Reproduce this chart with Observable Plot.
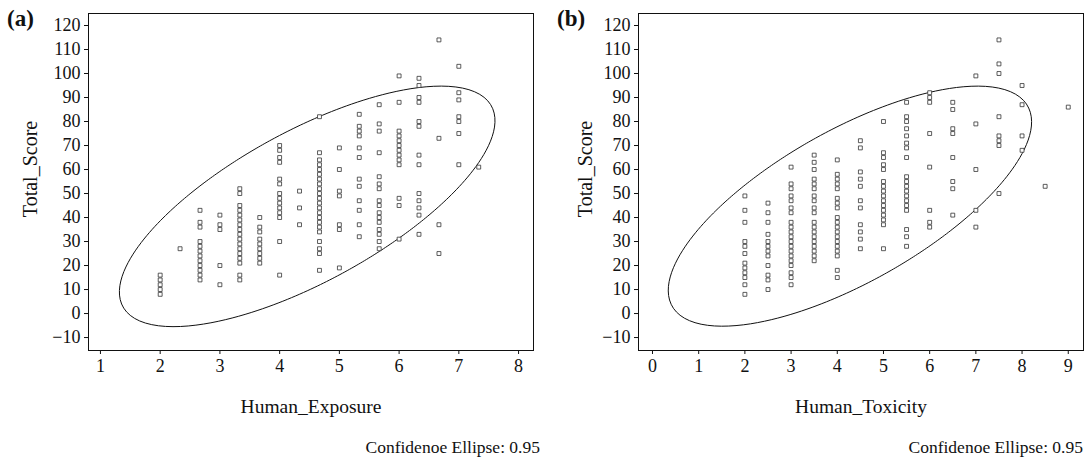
<!DOCTYPE html>
<html><head><meta charset="utf-8">
<script src="https://cdn.jsdelivr.net/npm/d3@7"></script>
<script src="https://cdn.jsdelivr.net/npm/@observablehq/plot@0.6"></script>
<style>
body{margin:0;background:#fff;width:1089px;height:459px;position:relative;overflow:hidden;font-family:"Liberation Serif",serif;color:#111;}
.panel{position:absolute;top:0;}
.tag{position:absolute;font-weight:bold;font-size:23px;line-height:1;}
.cap{position:absolute;font-size:17.5px;line-height:1;white-space:nowrap;}
</style></head><body>
<div id="a" class="panel" style="left:0"></div>
<div id="b" class="panel" style="left:545px"></div>
<div class="tag" style="left:7px;top:7px">(a)</div>
<div class="tag" style="left:557px;top:7px">(b)</div>
<div class="cap" style="right:549px;top:439px">Confidenoe Ellipse: 0.95</div>
<div class="cap" style="right:6px;top:439px">Confidenoe Ellipse: 0.95</div>
<script>
const yTicks = [-10, 0, 10, 20, 30, 40, 50, 60, 70, 80, 90, 100, 110, 120];
const exposureTicks = [1, 2, 3, 4, 5, 6, 7, 8];
const toxicityTicks = [0, 1, 2, 3, 4, 5, 6, 7, 8, 9];

const exposureX = [2, 2.333, 2.667, 3, 3.333, 3.667, 4, 4.333, 4.667, 5, 5.333, 5.667, 6, 6.333, 6.667, 7, 7.333];
const exposureScores = [
  [8,10,12,14,16],
  [27],
  [43,38,36,30,28,26,24,22,20,18,16,14],
  [41,37,35,20,12],
  [52,50,45,43,41,39,37,35,33,31,29,27,25,23,21,16,14],
  [40,36,34,31,29,27,25,23,21],
  [70,68,65,63,56,54,50,48,46,44,42,40,30,16],
  [51,44,37],
  [82,67,64,62,60,58,56,54,52,50,48,46,44,42,40,38,36,34,30,27,25,18],
  [69,60,51,49,37,35,19],
  [83,78,76,74,69,65,56,53,47,43,37,32],
  [87,79,76,67,57,54,52,47,45,42,40,38,35,33,30,27],
  [99,88,76,74,72,70,68,66,64,62,48,45,31],
  [98,95,90,88,80,78,66,62,50,47,44,41,33],
  [114,73,37,25],
  [103,92,89,82,80,75,62],
  [61]
];

const toxicityX = [2, 2.5, 3, 3.5, 4, 4.5, 5, 5.5, 6, 6.5, 7, 7.5, 8, 8.5, 9];
const toxicityScores = [
  [49,43,38,30,28,25,21,19,17,15,12,8],
  [46,42,38,33,30,28,26,24,20,16,14,10],
  [61,54,52,49,47,44,42,38,36,34,32,30,28,26,24,22,20,17,15,12],
  [66,63,60,56,54,52,49,47,44,42,38,36,34,32,30,28,26,24,22],
  [64,58,56,54,52,48,46,44,40,38,36,34,32,30,28,26,24,18,15],
  [72,69,59,56,53,47,44,37,34,31,27],
  [80,67,65,62,60,55,53,51,49,47,45,43,41,39,37,27],
  [88,82,80,77,74,71,69,65,57,55,53,51,49,47,45,43,35,32,28],
  [92,90,88,75,61,43,38,36],
  [88,85,77,75,65,55,52,41],
  [99,79,60,43,36],
  [114,104,100,82,74,72,70,50],
  [95,87,74,68],
  [53],
  [86]
];

// Points on the 95% confidence ellipse outlines
const ellipseExposure = [
  [1.30,8],[1.39,18],[1.67,27.5],[2.0,37.5],[2.3,47],[2.67,52.5],[3.13,61],[3.5,67],[4.0,75],
  [4.63,82],[5.02,86],[5.64,90],[6.14,93.7],[6.69,94.6],[7.11,93],[7.37,91],[7.48,87.5],
  [7.58,82],[7.53,72],[7.33,61],[7.11,54.6],[6.75,47],[6.02,32],[5.69,26],[5.0,17],
  [4.0,4.6],[3.0,-3],[2.12,-5.8],[1.72,-4.2],[1.45,0]
];
const ellipseToxicity = [
  [0.35,8.7],[0.54,19.6],[0.76,29.6],[1.19,39],[1.62,47.5],[2.49,61],[2.99,68],[3.64,74],
  [4.07,79],[4.78,82],[6.02,93],[7.03,95],[7.68,93.3],[7.97,89],[8.18,81],[8.12,71],
  [7.68,57],[7.25,47.5],[6.95,42],[6.02,29.6],[5.09,17],[4.35,10],[3.64,4.6],[2.62,-3.3],
  [1.47,-5.4],[0.6,-1.2]
];

// least-squares conic fit through the read outline points, so the drawn ellipse is smooth
function fitEllipse(pts, n = 240) {
  const mx = d3.mean(pts, p => p[0]), my = d3.mean(pts, p => p[1]);
  const sx = d3.deviation(pts, p => p[0]), sy = d3.deviation(pts, p => p[1]);
  const N = Array.from({length: 5}, () => Array(5).fill(0)), r = Array(5).fill(0);
  for (const [x, y] of pts) {
    const u = (x - mx) / sx, v = (y - my) / sy;
    const row = [u * u, u * v, v * v, u, v];
    for (let i = 0; i < 5; i++) { r[i] += row[i]; for (let j = 0; j < 5; j++) N[i][j] += row[i] * row[j]; }
  }
  for (let i = 0; i < 5; i++) {
    let p = i; for (let k = i + 1; k < 5; k++) if (Math.abs(N[k][i]) > Math.abs(N[p][i])) p = k;
    [N[i], N[p]] = [N[p], N[i]]; [r[i], r[p]] = [r[p], r[i]];
    for (let k = i + 1; k < 5; k++) {
      const f = N[k][i] / N[i][i];
      for (let j = i; j < 5; j++) N[k][j] -= f * N[i][j];
      r[k] -= f * r[i];
    }
  }
  const s = Array(5).fill(0);
  for (let i = 4; i >= 0; i--) { let t = r[i]; for (let j = i + 1; j < 5; j++) t -= N[i][j] * s[j]; s[i] = t / N[i][i]; }
  const [A, B, C, D, E] = s;
  const det = 4 * A * C - B * B;
  const u0 = (B * E - 2 * C * D) / det, v0 = (B * D - 2 * A * E) / det;
  const K = 1 - (A * u0 * u0 + B * u0 * v0 + C * v0 * v0 + D * u0 + E * v0);
  return d3.range(n).map(i => {
    const t = 2 * Math.PI * i / n, c = Math.cos(t), sn = Math.sin(t);
    const rr = Math.sqrt(K / (A * c * c + B * c * sn + C * sn * sn));
    return [mx + sx * (u0 + rr * c), my + sy * (v0 + rr * sn)];
  });
}

function flatten(xs, scores) {
  return xs.flatMap((x, i) => scores[i].map(y => ({x, y})));
}

function panel({data, ellipse, xDomain, xTicks, xLabel, width, ml, mr, yLabelDx}) {
  return Plot.plot({
    width, height: 430,
    marginLeft: ml, marginRight: mr, marginTop: 13, marginBottom: 80,
    style: {fontFamily: "Liberation Serif, serif", fontSize: "18px", color: "#111", background: "transparent", overflow: "visible"},
    x: {domain: xDomain},
    y: {domain: [-15.4, 125]},
    marks: [
      Plot.frame({stroke: "#111", strokeWidth: 1}),
      Plot.axisX({ticks: xTicks, tickSize: 4, tickPadding: 5, label: null, fontSize: 18}),
      Plot.axisX({ticks: [], tickSize: 0, label: xLabel, labelAnchor: "center", labelArrow: "none", labelOffset: 62, fontSize: 19.5}),
      Plot.axisY({ticks: yTicks, tickSize: 4, tickPadding: 4, label: null, fontSize: 18}),
      Plot.text(["Total_Score"], {frameAnchor: "left", textAnchor: "middle", rotate: -90, dx: yLabelDx, dy: -13, fontSize: 20}),
      Plot.line(fitEllipse(ellipse), {x: d => d[0], y: d => d[1], curve: "linear-closed", stroke: "#111", strokeWidth: 1}),
      Plot.dot(data, {x: "x", y: "y", symbol: "square", r: 2.2, stroke: "#333", strokeWidth: 0.8, fill: "white"})
    ]
  });
}

document.getElementById("a").append(panel({
  data: flatten(exposureX, exposureScores), ellipse: ellipseExposure,
  xDomain: [0.8, 8.25], xTicks: exposureTicks, xLabel: "Human_Exposure",
  width: 545, ml: 88, mr: 12, yLabelDx: -58
}));
document.getElementById("b").append(panel({
  data: flatten(toxicityX, toxicityScores), ellipse: ellipseToxicity,
  xDomain: [-0.303, 9.33], xTicks: toxicityTicks, xLabel: "Human_Toxicity",
  width: 544, ml: 93, mr: 6, yLabelDx: -53
}));
</script>
</body></html>
